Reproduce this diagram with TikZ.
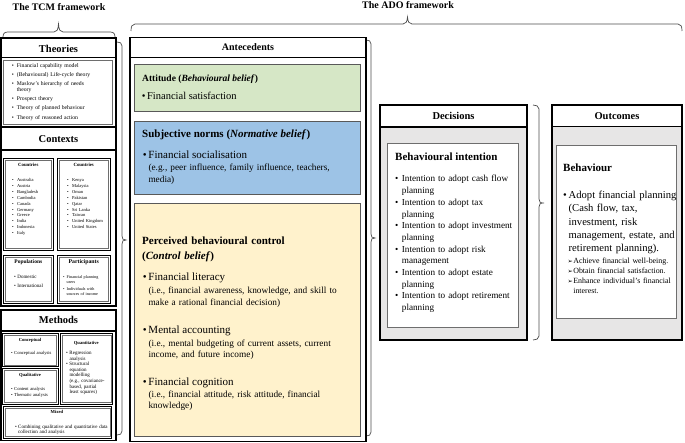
\documentclass[tikz,border=0pt]{standalone}
\usepackage{fontspec}
\setmainfont{Liberation Serif}
\newfontfamily\dvs{DejaVu Sans}
\setlength{\parskip}{0pt}
\definecolor{agreen}{RGB}{214,231,198}
\definecolor{ablue}{RGB}{157,195,230}
\definecolor{ayellow}{RGB}{255,242,204}
\definecolor{agrey}{RGB}{231,230,230}
\definecolor{bgrey}{RGB}{110,110,110}
\newcommand{\myfs}[2]{\fontsize{#1}{#2}\selectfont}
\newcommand{\bl}[2]{\hangindent=#1\hangafter=1\noindent\makebox[#1][l]{•}#2\par}
\newcommand{\al}[2]{\hangindent=#1\hangafter=1\noindent\makebox[#1][l]{{\dvs\fontsize{6.3}{6}\selectfont ➢}}#2\par}
\newcommand{\dblbox}[4]{%
  \draw[black, line width=0.8pt] (#1,#2) rectangle (#3,#4);
  \draw[bgrey, line width=0.5pt] ({#1+1.8},{#2+1.8}) rectangle ({#3-1.8},{#4-1.8});}
\tikzset{
  T/.style={anchor=base west, inner sep=0pt, align=left},
  C/.style={anchor=base, inner sep=0pt, align=center},
  L/.style={anchor=base west, inner sep=0pt, align=left, text width=#1},
  frame/.style={draw=black, line width=1.1pt},
  thin/.style={draw=bgrey, line width=0.6pt},
  cbox/.style={draw=black!65, line width=0.7pt},
  brace/.style={draw=black!70, line width=0.7pt},
}
\begin{document}
\begin{tikzpicture}[x=1pt,y=-1pt]
\useasboundingbox (0,0) rectangle (685,443);

% ---------- titles and braces
\node[C, font=\bfseries\myfs{10}{12}] (tcm) at (59,11) {The TCM framework};
\node[C, font=\bfseries\myfs{10}{12}] (ado) at (408,9) {The ADO framework};
\draw[brace] (3,37) .. controls (3,33.5) and (4.5,32) .. (8,32) -- (54,32)
  .. controls (57,32) and (58,30) .. (58.5,24) .. controls (59,30) and (60,32) .. (63,32)
  -- (110,32) .. controls (113.5,32) and (115,33.5) .. (115,37);
\draw[brace] (131,31) .. controls (131,26.5) and (132,24) .. (135,24) -- (403,24)
  .. controls (406,24) and (407,22) .. (407.5,17) .. controls (408,22) and (409,24) .. (412,24)
  -- (678,24) .. controls (681,24) and (682,26.5) .. (682,31);
\draw[brace] (117,42) .. controls (120,42) and (122,43) .. (122,46) -- (122,236)
  .. controls (122,239) and (123,240) .. (126,240) .. controls (123,240) and (122,241) .. (122,244)
  -- (122,431) .. controls (122,434) and (120,435) .. (117,435);
\draw[brace] (366,40) .. controls (369,40) and (371,41) .. (371,44) -- (371,234)
  .. controls (371,237) and (372,238) .. (375,238) .. controls (372,238) and (371,239) .. (371,242)
  -- (371,432) .. controls (371,435) and (369,436) .. (366,436);
\draw[brace] (533,105) .. controls (536,105) and (539,106) .. (539,109) -- (539,199)
  .. controls (539,202) and (540,203) .. (544,203) .. controls (540,203) and (539,204) .. (539,207)
  -- (539,336) .. controls (539,339) and (536,340) .. (533,340);

% ---------- TCM: Theories
\draw[frame] (1,38) rectangle (116,57.5);
\node[C, font=\bfseries\myfs{10.5}{12}] (thH) at (58.5,52.5) {Theories};
\draw[frame] (1,57.5) rectangle (116,127);
\draw[thin] (3.5,60) rectangle (112,124.5);
\node[L=98, font=\myfs{5.7}{5.4}] (thB) at (11.7,67.4) {%
\bl{5pt}{Financial capability model}\vspace{3.9pt}%
\bl{5pt}{(Behavioural) Life-cycle theory}\vspace{3.9pt}%
\bl{5pt}{Maslow’s hierarchy of needs\newline theory}\vspace{3.9pt}%
\bl{5pt}{Prospect theory}\vspace{3.9pt}%
\bl{5pt}{Theory of planned behaviour}\vspace{3.9pt}%
\bl{5pt}{Theory of reasoned action}};

% ---------- TCM: Contexts
\draw[frame] (1,127) rectangle (116,150);
\node[C, font=\bfseries\myfs{10.5}{12}] (cxH) at (58.5,143) {Contexts};
\draw[frame] (1,150) rectangle (116,306);
\dblbox{3.3}{158.3}{53.3}{250}
\dblbox{57.3}{158.3}{110}{250}
\dblbox{3.3}{255}{53.3}{303.3}
\dblbox{57.3}{255}{110}{303.3}
\node[C, font=\bfseries\myfs{4.8}{5}] (cLt) at (28.3,167) {Countries};
\node[L=40, font=\myfs{4.5}{5.95}] (cLl) at (12,181.3) {%
\bl{5pt}{Australia}\bl{5pt}{Austria}\bl{5pt}{Bangladesh}\bl{5pt}{Cambodia}\bl{5pt}{Canada}%
\bl{5pt}{Germany}\bl{5pt}{Greece}\bl{5pt}{India}\bl{5pt}{Indonesia}\bl{5pt}{Italy}};
\node[C, font=\bfseries\myfs{4.8}{5}] (cRt) at (83.7,167) {Countries};
\node[L=40, font=\myfs{4.5}{5.95}] (cRl) at (67,181.3) {%
\bl{5pt}{Kenya}\bl{5pt}{Malaysia}\bl{5pt}{Oman}\bl{5pt}{Pakistan}\bl{5pt}{Qatar}%
\bl{5pt}{Sri Lanka}\bl{5pt}{Taiwan}\bl{5pt}{United Kingdom}\bl{5pt}{United States}};
\node[C, font=\bfseries\myfs{5.5}{6}] (poT) at (28.3,264) {Populations};
\node[L=40, font=\myfs{5}{8.4}] (poL) at (14,279) {\bl{3.2pt}{Domestic}\bl{3.2pt}{International}};
\node[C, font=\bfseries\myfs{5.8}{6}] (paT) at (83.7,264) {Participants};
\node[L=42, font=\myfs{4.2}{5.3}] (paL) at (63,278.5) {%
\bl{3.5pt}{Financial planning\newline users}\vspace{1.2pt}%
\bl{3.5pt}{Individuals with\newline sources of income}};

% ---------- TCM: Methods
\draw[frame] (1,310) rectangle (116,331);
\node[C, font=\bfseries\myfs{10.5}{12}] (meH) at (58.5,324) {Methods};
\draw[frame] (1,331) rectangle (116,440.5);
\dblbox{2}{333.3}{58.3}{366.7}
\dblbox{2}{368.3}{58.3}{404}
\dblbox{60}{333.3}{112.7}{404}
\dblbox{3.3}{406}{111.7}{438}
\node[C, font=\bfseries\myfs{4.6}{5}] (coT) at (30,341.5) {Conceptual};
\node[L=45, font=\myfs{4.6}{5.6}] (coL) at (11,354.5) {\bl{3pt}{Conceptual analysis}};
\node[C, font=\bfseries\myfs{4.6}{5}] (qlT) at (30,377) {Qualitative};
\node[L=45, font=\myfs{4.6}{5.7}] (qlL) at (11,390.5) {\bl{3pt}{Content analysis}\bl{3pt}{Thematic analysis}};
\node[C, font=\bfseries\myfs{4.6}{5}] (qnT) at (86.3,344.5) {Quantitative};
\node[L=45, font=\myfs{5}{5.6}] (qnL) at (66,354.5) {%
\bl{3.3pt}{Regression\newline analysis}%
\bl{3.3pt}{Structural\newline equation\newline modelling\newline (e.g., covariance-\newline based, partial\newline least squares)}};
\node[C, font=\bfseries\myfs{4.6}{5}] (miT) at (57,413.5) {Mixed};
\node[L=100, font=\myfs{5}{5.5}] (miL) at (15,428) {\bl{3pt}{Combining qualitative and quantitative data\newline collection and analysis}};

% ---------- ADO: Antecedents
\draw[frame] (130,37.3) rectangle (366,441.7);
\draw[frame] (130,57.3) -- (366,57.3);
\node[C, font=\bfseries\myfs{10}{12}] (anH) at (248,51) {Antecedents};
\draw[cbox, fill=agreen] (134,64) rectangle (360.7,111);
\node[T, font=\bfseries\myfs{9.5}{11}] (atT) at (142,81.5) {Attitude (\textit{Behavioural belief})};
\node[T, font=\myfs{10.5}{12}] (atB) at (141.7,99.5) {\makebox[5.2pt][l]{•}Financial satisfaction};
\draw[cbox, fill=ablue] (134,121.7) rectangle (360.7,194);
\node[T, font=\bfseries\myfs{11}{13}] (snT) at (142,137.5) {Subjective norms (\textit{Normative belief})};
\node[T, font=\myfs{11}{13}] (snB) at (142.7,158.5) {\makebox[5.6pt][l]{•}Financial socialisation};
\node[L=210, font=\myfs{9.3}{12}] (snS) at (148.3,171) {(e.g., peer influence, family influence, teachers,\\media)};
\draw[cbox, fill=ayellow] (134,203.3) rectangle (360.7,436.7);
\node[L=210, font=\bfseries\myfs{11}{14.5}] (pcT) at (142,245) {Perceived behavioural control\\(\textit{Control belief})};
\node[T, font=\myfs{11}{13}] (pc1) at (142.7,281) {\makebox[5.6pt][l]{•}Financial literacy};
\node[L=210, font=\myfs{9.3}{11.2}] (pc1s) at (148.3,294) {(i.e., financial awareness, knowledge, and skill to\\make a rational financial decision)};
\node[T, font=\myfs{11}{13}] (pc2) at (142.7,333.5) {\makebox[5.6pt][l]{•}Mental accounting};
\node[L=210, font=\myfs{9.3}{11.2}] (pc2s) at (148.3,346) {(i.e., mental budgeting of current assets, current\\income, and future income)};
\node[T, font=\myfs{11}{13}] (pc3) at (142.7,385.5) {\makebox[5.6pt][l]{•}Financial cognition};
\node[L=210, font=\myfs{9.3}{11.2}] (pc3s) at (148.3,397.5) {(i.e., financial attitude, risk attitude, financial\\knowledge)};

% ---------- ADO: Decisions
\fill[agrey] (380,127) rectangle (527,340);
\draw[thin, fill=white] (387.3,143.3) rectangle (518.3,327.3);
\draw[frame] (380,105) rectangle (527,340);
\draw[frame] (380,127) -- (527,127);
\node[C, font=\bfseries\myfs{10.5}{12}] (dcH) at (453.5,120) {Decisions};
\node[T, font=\bfseries\myfs{11}{13}] (biT) at (395,160.5) {Behavioural intention};
\node[L=125, font=\myfs{9.2}{11.67}] (biL) at (395,182) {%
\bl{6.7pt}{Intention to adopt cash flow\newline planning}%
\bl{6.7pt}{Intention to adopt tax\newline planning}%
\bl{6.7pt}{Intention to adopt investment\newline planning}%
\bl{6.7pt}{Intention to adopt risk\newline management}%
\bl{6.7pt}{Intention to adopt estate\newline planning}%
\bl{6.7pt}{Intention to adopt retirement\newline planning}};

% ---------- ADO: Outcomes
\fill[agrey] (552,126.5) rectangle (682,340);
\draw[thin, fill=white] (556.7,145) rectangle (676.7,318.3);
\draw[frame] (552,105) rectangle (682,340);
\draw[frame] (552,126.5) -- (682,126.5);
\node[C, font=\bfseries\myfs{10.5}{12}] (ocH) at (617,119.5) {Outcomes};
\node[T, font=\bfseries\myfs{11}{13}] (bhT) at (563,172) {Behaviour};
\node[L=125, font=\myfs{10.6}{13.3}] (bhL) at (563,198.5) {%
\bl{5.5pt}{Adopt financial planning\newline (Cash flow, tax,\newline investment, risk\newline management, estate, and\newline retirement planning).}};
\node[L=115, font=\myfs{7.9}{10}] (bhS) at (567.5,263.5) {%
\al{5.6pt}{Achieve financial well-being.}%
\al{5.6pt}{Obtain financial satisfaction.}%
\al{5.6pt}{Enhance individual’s financial\newline interest.}};
\end{tikzpicture}
\end{document}
